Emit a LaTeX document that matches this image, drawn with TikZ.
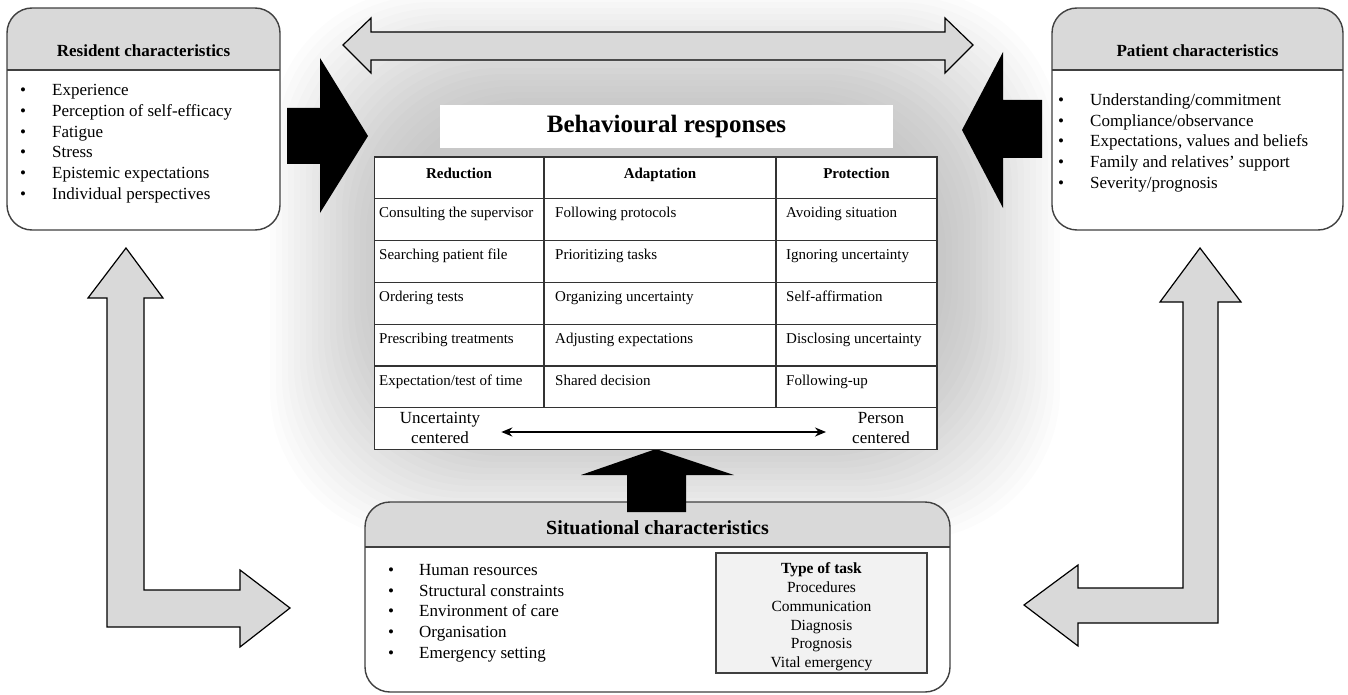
\documentclass[tikz,border=0pt]{standalone}
\usepackage{fontspec}
\setmainfont{Liberation Serif}
\usetikzlibrary{arrows.meta}

\definecolor{headgray}{HTML}{D9D9D9}
\definecolor{arrgray}{HTML}{D9D9D9}
\definecolor{boxline}{HTML}{404040}
\definecolor{taskfill}{HTML}{F2F2F2}

\newcommand{\fs}[2]{\fontsize{#1}{#2}\selectfont}
\newcommand{\bul}[1]{\makebox[#1][l]{\textbullet}}

% rounded card with a grey title band
\newcommand{\drawcard}[5]{%
  \fill[white, rounded corners=25pt] (#1,#2) rectangle (#3,#4);
  \begin{scope}
    \clip[rounded corners=25pt] (#1,#2) rectangle (#3,#4);
    \fill[headgray] (#1,#2) rectangle (#3,#5);
  \end{scope}
  \draw[boxline, line width=1.4pt] (#1,#5) -- (#3,#5);
  \draw[boxline, line width=1.4pt, rounded corners=25pt] (#1,#2) rectangle (#3,#4);
}

\begin{document}
\begin{tikzpicture}[x=1pt, y=-1pt,
    every node/.style={inner sep=0pt, font=\fs{17}{20.6}},
    cardtitle/.style={anchor=base, font=\fs{17}{20}\bfseries},
    item/.style={anchor=base west},
    cell/.style={anchor=base west, font=\fs{15}{18}},
    colhead/.style={anchor=base, font=\fs{15}{18}\bfseries},
    tabline/.style={draw=black!80, line width=1.3pt},
    hollowarr/.style={draw=black, fill=arrgray, line width=1.2pt},
    solidarr/.style={fill=black},
    arr/.style={<->, >={Stealth[length=11pt, width=9pt]}, line width=2pt}
]
\useasboundingbox (0,0) rectangle (1348,695);

% soft grey glow behind the table
\foreach \k in {0,...,19}
  \fill[black, opacity=0.01, rounded corners=150pt] (270+6*\k,-10+6*\k) rectangle (1060-6*\k,540-6*\k);

% top double arrow
\draw[hollowarr] (343,45) -- (371,18) -- (371,32) -- (945,32) -- (945,18) -- (973,45)
  -- (945,73) -- (945,60) -- (371,60) -- (371,73) -- cycle;

% cards
\drawcard{7}{8}{280}{230}{70}
\drawcard{1052}{8}{1343}{230}{70}
\drawcard{365}{502}{950}{692}{547}

\node[cardtitle] (restitle) at (143.5,57) {Resident characteristics};
\node[cardtitle] (pattitle) at (1197.5,57) {Patient characteristics};
\node[cardtitle, font=\fs{20}{24}\bfseries] (sittitle) at (657.5,534) {Situational characteristics};

\foreach \t [count=\i] in {Experience, Perception of self-efficacy, Fatigue, Stress,
    Epistemic expectations, Individual perspectives}
  \node[item] (res\i) at (20,75.4+20.6*\i) {\bul{32pt}\t};

\foreach \t [count=\i] in {Understanding/commitment, Compliance/observance,
    {Expectations, values and beliefs}, Family and relatives' support, Severity/prognosis}
  \node[item] (pat\i) at (1058,84.8+20.7*\i) {\bul{32pt}\t};

\foreach \t [count=\i] in {Human resources, Structural constraints, Environment of care,
    Organisation, Emergency setting}
  \node[item] (sit\i) at (388,554.8+20.7*\i) {\bul{31pt}\t};

% L-shaped two-way arrows
\draw[hollowarr] (126,248) -- (163,298) -- (144,298) -- (144,590) -- (240,590) -- (240,570)
  -- (290,608) -- (240,647) -- (240,627) -- (107,627) -- (107,298) -- (88,298) -- cycle;
\draw[hollowarr] (1200,248) -- (1241,302) -- (1218,302) -- (1218,623) -- (1078,623) -- (1078,646)
  -- (1024,605) -- (1078,565) -- (1078,588) -- (1183,588) -- (1183,302) -- (1160,302) -- cycle;

% black influence arrows
\fill[solidarr] (287,108) -- (320,108) -- (320,58) -- (368,136) -- (320,213) -- (320,164) -- (287,164) -- cycle;
\fill[solidarr] (1042,100) -- (1003,100) -- (1003,52) -- (962,130) -- (1003,208) -- (1003,158) -- (1042,158) -- cycle;
\fill[solidarr] (627,512) -- (627,475) -- (581,475) -- (656,449) -- (734,475) -- (686,475) -- (686,512) -- cycle;

\node[fill=white, minimum width=453pt, minimum height=43pt, font=\fs{25}{30}\bfseries]
  (behav) at (666.5,126.5) {Behavioural responses};

% table
\draw[tabline, fill=white] (374.5,157) rectangle (937,449.6);
\foreach \r in {1,...,6}
  \draw[tabline] (374.5,157+41.8*\r) -- (937,157+41.8*\r);
\draw[tabline] (544,157) -- (544,407.8);
\draw[tabline] (776,157) -- (776,407.8);

\node[colhead] (hred) at (459,178.5) {Reduction};
\node[colhead] (hada) at (660,178.5) {Adaptation};
\node[colhead] (hpro) at (856.5,178.5) {Protection};

\foreach \a/\b/\c [count=\i] in {
    Consulting the supervisor/Following protocols/Avoiding situation,
    Searching patient file/Prioritizing tasks/Ignoring uncertainty,
    Ordering tests/Organizing uncertainty/Self-affirmation,
    Prescribing treatments/Adjusting expectations/Disclosing uncertainty,
    {Expectation/test of time}/Shared decision/Following-up}
{
  \node[cell] (red\i) at (379,176+41.8*\i) {\a};
  \node[cell] (ada\i) at (555,176+41.8*\i) {\b};
  \node[cell] (pro\i) at (786,176+41.8*\i) {\c};
}

\node[align=center] (unc) at (440,428) {Uncertainty\\centered};
\node[align=center] (per) at (881,428) {Person\\centered};
\draw[arr] ([xshift=21pt,yshift=-4pt]unc.east) -- ([xshift=-26pt,yshift=-4pt]per.west);

% type of task
\node[draw=boxline, line width=1.3pt, fill=taskfill, minimum width=211pt, minimum height=120pt]
  (task) at (821.5,613) {};
\node[align=center, font=\fs{15.5}{18.8}] (tasklist) at (821.5,617)
  {\textbf{Type of task}\\Procedures\\Communication\\Diagnosis\\Prognosis\\Vital emergency};
\end{tikzpicture}
\end{document}
